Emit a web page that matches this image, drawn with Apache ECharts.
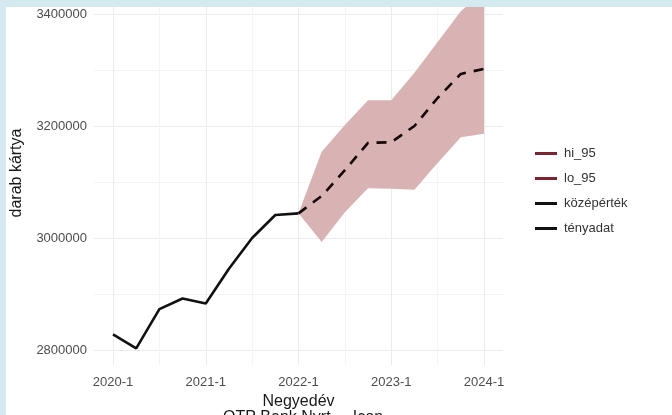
<!DOCTYPE html>
<html>
<head>
<meta charset="utf-8">
<script src="https://cdn.jsdelivr.net/npm/echarts@6/dist/echarts.min.js"></script>
<style>
  html, body { margin: 0; padding: 0; background: #fff; }
  #chart { position: absolute; left: 0; top: 0; width: 672px; height: 415px; }
  .edge { position: absolute; background: #d5eaf0; }
</style>
</head>
<body>
<div id="chart"></div>
<div class="edge" style="left:0;top:0;width:672px;height:7px"></div>
<div class="edge" style="left:0;top:0;width:6px;height:415px"></div>
<script>
// ── values ──
const actualQuarters = ['2020-1', '2020-2', '2020-3', '2020-4', '2021-1', '2021-2', '2021-3', '2021-4', '2022-1'];
const actualValues = [2828000, 2803000, 2873000, 2892000, 2883000, 2945000, 3000000, 3041000, 3044000];

const forecastQuarters = ['2022-1', '2022-2', '2022-3', '2022-4', '2023-1', '2023-2', '2023-3', '2023-4', '2024-1'];
const meanValues = [3044000, 3075000, 3121000, 3170000, 3171000, 3200000, 3250000, 3293000, 3302000];
const lo95 = [3044000, 2993000, 3046000, 3089000, 3088000, 3086000, 3134000, 3180000, 3186000];
const hi95 = [3044000, 3154000, 3202000, 3246000, 3246000, 3295000, 3350000, 3405000, 3440000];

const xTickLabels = ['2020-1', '2021-1', '2022-1', '2023-1', '2024-1'];

// quarter label -> position on the quarter axis (0 = 2020-1)
const qPos = s => { const [y, q] = s.split('-').map(Number); return (y - 2020) * 4 + (q - 1); };

const FONT = '"Liberation Sans", Arial, sans-serif';
const GRID_MAJOR = '#ebebeb', GRID_MINOR = '#f4f4f4';

// ribbon between lo_95 and hi_95, drawn once as one polygon
function renderBand(params, api) {
  if (params.dataIndex !== 0) return null;
  const upper = forecastQuarters.map((q, i) => api.coord([qPos(q), hi95[i]]));
  const lower = forecastQuarters.map((q, i) => api.coord([qPos(q), lo95[i]])).reverse();
  return {
    type: 'polygon',
    shape: { points: upper.concat(lower) },
    style: { fill: '#d9b3b3' },
  };
}

const chart = echarts.init(document.getElementById('chart'));
chart.setOption({
  backgroundColor: '#fff',
  animation: false,
  grid: [
    // 0: y ticks + horizontal grid, spans panel width
    { left: 94, right: 169, top: 14, bottom: 65 },
    // 1: x ticks + vertical grid
    { left: 113, right: 188, top: 0, bottom: 49 },
    // 2: data panel (ggplot expanded range)
    { left: 94, right: 169, top: 7, bottom: 49 },
  ],
  xAxis: [
    { gridIndex: 0, type: 'value', show: false, min: 0, max: 1 },
    {
      gridIndex: 1, type: 'value', min: 0, max: 16, interval: 2,
      axisLine: { show: false }, axisTick: { show: false },
      axisLabel: { margin: 11, color: '#4d4d4d', fontSize: 13, fontFamily: FONT,
        formatter: v => (v % 4 === 0 ? xTickLabels[v / 4] : '') },
      splitLine: { lineStyle: { color: [GRID_MAJOR, GRID_MINOR], width: 1 } },
      name: 'Negyedév', nameLocation: 'middle', nameGap: 26,
      nameTextStyle: { color: '#1a1a1a', fontSize: 16, fontFamily: FONT },
    },
    { gridIndex: 2, type: 'value', show: false, min: -0.82, max: 16.82 },
  ],
  yAxis: [
    {
      gridIndex: 0, type: 'value', min: 2800000, max: 3400000, interval: 100000,
      axisLine: { show: false }, axisTick: { show: false },
      axisLabel: { margin: 7, color: '#4d4d4d', fontSize: 13, fontFamily: FONT,
        formatter: v => (v % 200000 === 0 ? String(v) : '') },
      splitLine: { lineStyle: { color: [GRID_MAJOR, GRID_MINOR], width: 1 } },
    },
    { gridIndex: 1, type: 'value', show: false, min: 0, max: 1 },
    { gridIndex: 2, type: 'value', show: false, min: 2771429, max: 3412500 },
  ],
  legend: {
    orient: 'vertical', left: 530, top: 141, itemGap: 10,
    icon: 'rect', itemWidth: 22, itemHeight: 3,
    textStyle: { color: '#333', fontSize: 13, fontFamily: FONT, lineHeight: 15, padding: [0, 0, 0, 2] },
    data: [
      { name: 'hi_95', itemStyle: { color: '#7d2230' } },
      { name: 'lo_95', itemStyle: { color: '#7d2230' } },
      { name: 'középérték', itemStyle: { color: '#111' } },
      { name: 'tényadat', itemStyle: { color: '#111' } },
    ],
  },
  title: {
    text: 'OTP Bank Nyrt. – Icon', left: 218, top: 405,
    textStyle: { color: '#1a1a1a', fontSize: 16, fontWeight: 'normal', fontFamily: FONT },
  },
  graphic: [{
    type: 'text', x: 17, y: 173, rotation: Math.PI / 2,
    style: { text: 'darab kártya', fill: '#1a1a1a', font: '16px ' + FONT, align: 'center', verticalAlign: 'middle' },
  }],
  series: [
    {
      name: 'band', type: 'custom', xAxisIndex: 2, yAxisIndex: 2,
      data: forecastQuarters.map((q, i) => [qPos(q), lo95[i], hi95[i]]),
      encode: { x: 0, y: [1, 2] },
      renderItem: renderBand, clip: true, z: 1, silent: true,
    },
    {
      name: 'lo_95', type: 'line', xAxisIndex: 2, yAxisIndex: 2,
      data: forecastQuarters.map((q, i) => [qPos(q), lo95[i]]),
      showSymbol: false, lineStyle: { opacity: 0 }, z: 1,
    },
    {
      name: 'hi_95', type: 'line', xAxisIndex: 2, yAxisIndex: 2,
      data: forecastQuarters.map((q, i) => [qPos(q), hi95[i]]),
      showSymbol: false, lineStyle: { opacity: 0 }, z: 1,
    },
    {
      name: 'középérték', type: 'line', xAxisIndex: 2, yAxisIndex: 2,
      data: forecastQuarters.map((q, i) => [qPos(q), meanValues[i]]),
      showSymbol: false, lineStyle: { color: '#140808', width: 2.6, type: [10, 8] }, z: 3,
    },
    {
      name: 'tényadat', type: 'line', xAxisIndex: 2, yAxisIndex: 2,
      data: actualQuarters.map((q, i) => [qPos(q), actualValues[i]]),
      showSymbol: false, lineStyle: { color: '#111', width: 2.6 }, z: 3,
    },
  ],
});
</script>
</body>
</html>
